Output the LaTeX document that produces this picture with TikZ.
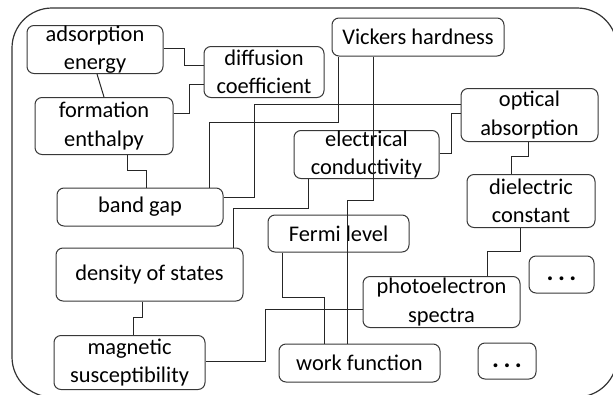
\documentclass[tikz,border=0pt]{standalone}
\usepackage{fontspec}
\setmainfont{Carlito}
\newcommand{\moredots}{\raisebox{-6pt}[0pt][0pt]{\fontsize{26}{27}\selectfont\bfseries .\hspace{4.5pt}.\hspace{4.5pt}.}}
\begin{document}
\begin{tikzpicture}[x=1pt,y=-1pt,
  prop/.style={draw=black!78,line width=1pt,rounded corners=7pt,inner sep=0pt,
    align=center,font=\fontsize{22.4}{28.5}\selectfont,text=black},
  twoline/.style={yshift=-1.5pt},
  etc/.style={draw=black!78,line width=1pt,rounded corners=7pt,inner sep=0pt,
    font=\fontsize{22.4}{27}\selectfont,text=black},
  link/.style={draw=black!85,line width=1pt},
  frame/.style={draw=black!80,line width=1.2pt,rounded corners=40pt}]
\useasboundingbox (0,0) rectangle (613,394);
\begin{scope}
\clip (0,0) rectangle (613,394);
\draw[frame] (12,8) rectangle (617,397);
\end{scope}

% property boxes
\node[prop,twoline,minimum width=136pt,minimum height=48pt] (ads)   at (95,48)     {adsorption\\energy};
\node[prop,twoline,minimum width=120pt,minimum height=51pt] (diff)  at (264,70.5)  {diffusion\\coefficient};
\node[prop,twoline,minimum width=138pt,minimum height=57pt] (form)  at (104,124.5) {formation\\enthalpy};
\node[prop,minimum width=172pt,minimum height=38pt] (vick)  at (418,37)    {Vickers hardness};
\node[prop,twoline,minimum width=137pt,minimum height=53pt] (opt)   at (529.5,113.5) {optical\\absorption};
\node[prop,twoline,minimum width=145pt,minimum height=48pt] (elec)  at (366.5,153) {electrical\\conductivity};
\node[prop,minimum width=166pt,minimum height=38pt] (band)  at (140,207)   {band gap};
\node[prop,minimum width=141pt,minimum height=37pt] (fermi) at (338.5,233.5) {Fermi level};
\node[prop,twoline,minimum width=128pt,minimum height=53pt] (diel)  at (531,199.5) {dielectric\\constant};
\node[prop,minimum width=187pt,minimum height=53pt] (dos)   at (149.5,274.5) {density of states};
\node[etc,minimum width=65pt,minimum height=37pt]  (more1) at (561.5,274.5) {\moredots};
\node[prop,twoline,minimum width=157pt,minimum height=51pt] (photo) at (441.5,300.5) {photoelectron\\spectra};
\node[prop,twoline,minimum width=151pt,minimum height=54pt] (mag)   at (129.5,361) {magnetic\\susceptibility};
\node[prop,minimum width=161pt,minimum height=38pt] (work)  at (359.5,363) {work function};
\node[etc,minimum width=58pt,minimum height=36pt]  (more2) at (507,361)   {\moredots};

% connections
\draw[link] (ads.south -| 97,0) -- (form.north -| 104,0);
\draw[link] (ads.east |- 0,48) -| (184,65) -- (diff.west |- 0,65);
\draw[link] (form.east |- 0,113) -| (189,84) -- (diff.west |- 0,84);
\draw[link] (form.south -| 127,0) |- (146,170) -- (band.north -| 146,0);
\draw[link] (band.east |- 0,197) -| (254,104) -- (opt.west |- 0,104);
\draw[link] (vick.south -| 338,0) |- (209,122) -- (band.north -| 209,0);
\draw[link] (vick.south -| 373,0) |- (347,200) -- (work.north -| 347,0);
\draw[link] (elec.east |- 0,153) -| (451,113) -- (opt.west |- 0,113);
\draw[link] (elec.south -| 308,0) |- (233,208) -- (dos.north -| 233,0);
\draw[link] (opt.south -| 528,0) |- (511,156) -- (diel.north -| 511,0);
\draw[link] (diel.south -| 520,0) |- (487,251) -- (photo.north -| 487,0);
\draw[link] (photo.west |- 0,309) -| (265,361) -- (mag.east |- 0,361);
\draw[link] (fermi.south -| 282,0) |- (324,297) -- (work.north -| 324,0);
\draw[link] (dos.south -| 142,0) |- (133,317) -- (mag.north -| 133,0);
\end{tikzpicture}
\end{document}
